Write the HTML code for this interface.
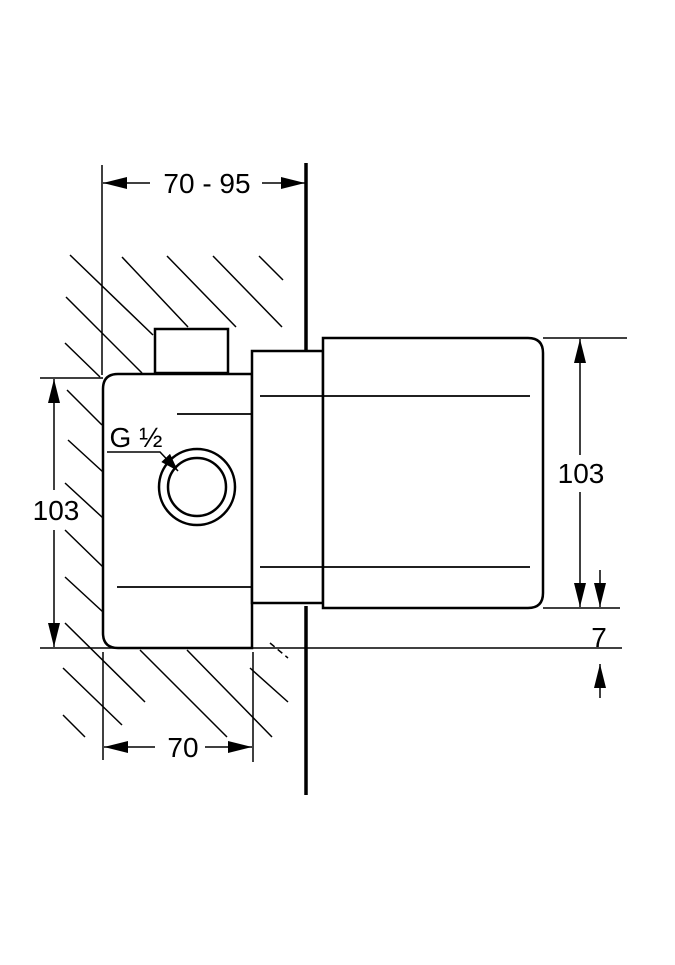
<!DOCTYPE html>
<html><head><meta charset="utf-8"><style>html,body{margin:0;padding:0;background:#fff}</style></head>
<body>
<svg width="675" height="960" viewBox="0 0 675 960" xmlns="http://www.w3.org/2000/svg" font-family="Liberation Sans, sans-serif">
<defs>
<marker id="b" viewBox="0 0 24 12" refX="24" refY="6" markerWidth="24" markerHeight="12" markerUnits="userSpaceOnUse" orient="auto-start-reverse"><path d="M0,0 L24,6 L0,12 z" fill="#000"/></marker>
<marker id="c" viewBox="0 0 18 12" refX="18" refY="6" markerWidth="18" markerHeight="12" markerUnits="userSpaceOnUse" orient="auto-start-reverse"><path d="M0,0 L18,6 L0,12 z" fill="#000"/></marker>
</defs>
<g stroke="#000" stroke-width="1.5" fill="none">
<line x1="70" y1="255" x2="153" y2="335"/>
<line x1="122" y1="257" x2="188" y2="327"/>
<line x1="167" y1="256" x2="236" y2="327"/>
<line x1="213" y1="256" x2="282" y2="327"/>
<line x1="259" y1="256" x2="283" y2="280"/>
<line x1="66" y1="297" x2="142" y2="373"/>
<line x1="65" y1="343" x2="100" y2="377"/>
<line x1="67" y1="390" x2="102" y2="425"/>
<line x1="68" y1="440" x2="103" y2="472"/>
<line x1="65" y1="483" x2="103" y2="518"/>
<line x1="65" y1="530" x2="103" y2="567"/>
<line x1="65" y1="577" x2="103" y2="612"/>
<line x1="65" y1="623" x2="145" y2="702"/>
<line x1="63" y1="668" x2="122" y2="725"/>
<line x1="63" y1="715" x2="85" y2="737"/>
<line x1="140" y1="650" x2="227" y2="737"/>
<line x1="187" y1="650" x2="272" y2="737"/>
<line x1="250" y1="668" x2="288" y2="702"/>
<line x1="270" y1="643" x2="288" y2="658" stroke-dasharray="6 4"/>
<line x1="102" y1="165" x2="102" y2="375"/>
<line x1="40" y1="378" x2="103" y2="378"/>
<line x1="40" y1="648" x2="622" y2="648"/>
<line x1="103" y1="652" x2="103" y2="760"/>
<line x1="253" y1="652" x2="253" y2="762"/>
<line x1="543" y1="338" x2="627" y2="338"/>
<line x1="543" y1="608" x2="620" y2="608"/>
<line x1="103" y1="183" x2="150" y2="183" marker-start="url(#b)"/>
<line x1="262" y1="183" x2="305" y2="183" marker-end="url(#b)"/>
<line x1="54" y1="379" x2="54" y2="490" marker-start="url(#b)"/>
<line x1="54" y1="530" x2="54" y2="647" marker-end="url(#b)"/>
<line x1="104" y1="747" x2="155" y2="747" marker-start="url(#b)"/>
<line x1="205" y1="747" x2="252" y2="747" marker-end="url(#b)"/>
<line x1="580" y1="339" x2="580" y2="455" marker-start="url(#b)"/>
<line x1="580" y1="492" x2="580" y2="607" marker-end="url(#b)"/>
<line x1="600" y1="570" x2="600" y2="607" marker-end="url(#b)"/>
<line x1="600" y1="698" x2="600" y2="664" marker-end="url(#b)"/>
</g>
<line x1="306" y1="163" x2="306" y2="352" stroke="#000" stroke-width="3.5"/>
<line x1="306" y1="606" x2="306" y2="795" stroke="#000" stroke-width="3.5"/>
<g stroke="#000" stroke-width="2.5" fill="#fff">
<rect x="155" y="329" width="73" height="44"/>
<path d="M118,374 H252 V648 H118 Q103,648 103,633 V389 Q103,374 118,374 Z"/>
<rect x="252" y="351" width="71" height="252"/>
<path d="M323,338 H528 Q543,338 543,353 V593 Q543,608 528,608 H323 Z"/>
<circle cx="197" cy="487" r="38"/>
<circle cx="197" cy="487" r="29"/>
</g>
<g stroke="#000" stroke-width="1.8">
<line x1="177" y1="414" x2="252" y2="414"/>
<line x1="117" y1="587" x2="252" y2="587"/>
<line x1="260" y1="396" x2="530" y2="396"/>
<line x1="260" y1="567" x2="530" y2="567"/>
</g>
<polyline points="107,452 160,452 178,471" stroke="#000" stroke-width="1.5" fill="none" marker-end="url(#c)"/>
<g font-size="28" fill="#000" text-anchor="middle">
<text x="207" y="193">70 - 95</text>
<text x="56" y="520">103</text>
<text x="183" y="757">70</text>
<text x="581" y="483">103</text>
<text x="599" y="647">7</text>
<text x="136" y="447">G ½</text>
</g>
</svg>
</body></html>
